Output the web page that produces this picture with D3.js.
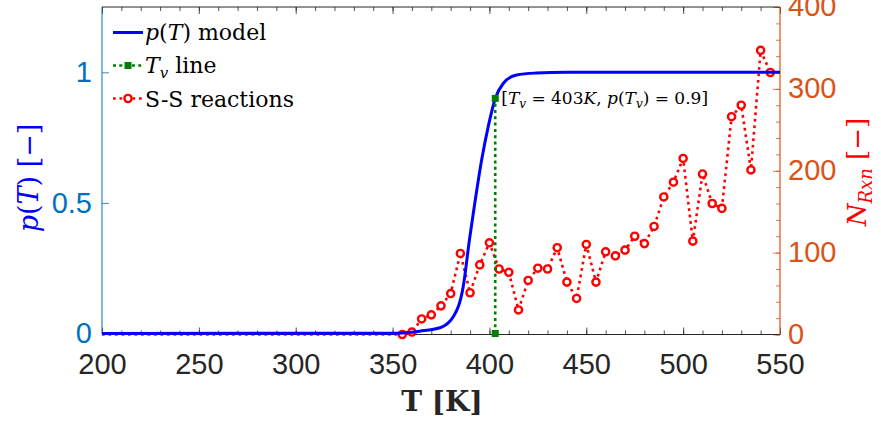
<!DOCTYPE html>
<html>
<head>
<meta charset="utf-8">
<script src="https://cdn.jsdelivr.net/npm/d3@7"></script>
<style>
  html, body { margin: 0; padding: 0; background: #fff; }
  svg { display: block; }
  .tick text { font-family: 'Liberation Sans', Arial, sans-serif; }
  .serif { font-family: 'DejaVu Serif', serif; }
</style>
</head>
<body>
<svg id="chart" width="881" height="423"></svg>
<script>
// S-S reaction counts (right axis)
const rxnT = [200, 355, 360, 365, 370, 375, 380, 385, 390, 395, 400, 405, 410, 415, 420,
  425, 430, 435, 440, 445, 450, 455, 460, 465, 470, 475, 480, 485, 490, 495, 500,
  505, 510, 515, 520, 525, 530, 535, 540, 545];
const rxnN = [0, 0, 3, 19, 24, 35, 50, 99, 51, 85, 112, 80, 76, 30, 66,
  81, 80, 106, 64, 44, 110, 64, 101, 96, 103, 120, 111, 132, 168, 186, 215,
  114, 196, 160, 154, 266, 280, 201, 347, 320];

// p(T) model curve (left axis)
const modelT = [200, 350, 364, 374.5, 381.5, 386.5, 389.7, 392.2, 396, 399.4, 403, 407.2, 414, 424, 440, 550];
const modelP = [0, 0.001, 0.009, 0.022, 0.066, 0.181, 0.36, 0.487, 0.665, 0.793, 0.9, 0.958, 0.99, 0.997, 1, 1];

// Tv line
const tvT = [403, 403];
const tvP = [0, 0.9];

const xTicks = [200, 250, 300, 350, 400, 450, 500, 550];
const leftTicks = [0, 0.5, 1];
const rightTicks = [0, 100, 200, 300, 400];

const blue = '#0000FF', red = '#FF0000', green = '#008000';
const leftColor = '#0072BD', rightColor = '#D95319', dark = '#262626';

function drawChart(svgElement) {
  const svg = d3.select(svgElement);
  const x0 = 102, x1 = 780, yTop = 7, yBot = 334.5;

  const x = d3.scaleLinear().domain([200, 550]).range([x0, x1]);
  const yL = d3.scaleLinear().domain([0, 1.25]).range([333.5, yTop]);
  const yR = d3.scaleLinear().domain([0, 400]).range([334.5, yTop]);

  const minorX = d3.range(200, 551, 10);
  const minorR = d3.range(0, 401, 20);

  function styleAxis(g, color, fontSize) {
    g.select('.domain').remove();
    g.selectAll('.tick line').attr('stroke', color).attr('stroke-width', 0.8);
    g.selectAll('.tick text').attr('fill', color).style('font-size', fontSize + 'px');
  }

  // bottom axis
  svg.append('g').attr('transform', `translate(0,${yBot})`)
    .call(d3.axisBottom(x).tickValues(minorX).tickSize(-4).tickFormat(''))
    .call(g => styleAxis(g, dark, 0));
  svg.append('g').attr('transform', `translate(0,${yBot})`)
    .call(d3.axisBottom(x).tickValues(xTicks).tickSize(-7).tickPadding(18.5).tickFormat(d3.format('d')))
    .call(g => styleAxis(g, dark, 29));

  // top axis (box)
  svg.append('g').attr('transform', `translate(0,${yTop})`)
    .call(d3.axisTop(x).tickValues(minorX).tickSize(-4).tickFormat(''))
    .call(g => styleAxis(g, dark, 0));
  svg.append('g').attr('transform', `translate(0,${yTop})`)
    .call(d3.axisTop(x).tickValues(xTicks).tickSize(-7).tickFormat(''))
    .call(g => styleAxis(g, dark, 0));

  // left axis
  svg.append('g').attr('transform', `translate(${x0},0)`)
    .call(d3.axisLeft(yL).tickValues(leftTicks).tickSize(-7).tickPadding(10).tickFormat(d => d === 0.5 ? '0.5' : d3.format('d')(d)))
    .call(g => styleAxis(g, leftColor, 29));

  // right axis
  svg.append('g').attr('transform', `translate(${x1},0)`)
    .call(d3.axisRight(yR).tickValues(minorR).tickSize(-4).tickFormat(''))
    .call(g => styleAxis(g, rightColor, 0));
  svg.append('g').attr('transform', `translate(${x1},0)`)
    .call(d3.axisRight(yR).tickValues(rightTicks).tickSize(-7).tickPadding(8).tickFormat(d3.format('d')))
    .call(g => styleAxis(g, rightColor, 29))
    .call(g => g.selectAll('.tick text').attr('dy', '0.3em'));

  // frame lines
  svg.append('line').attr('x1', x0).attr('x2', x1).attr('y1', yBot).attr('y2', yBot)
    .attr('stroke', dark).attr('stroke-width', 1);
  svg.append('line').attr('x1', x0).attr('x2', x1).attr('y1', yTop).attr('y2', yTop)
    .attr('stroke', dark).attr('stroke-width', 1);
  svg.append('line').attr('x1', x0).attr('x2', x0).attr('y1', yTop).attr('y2', yBot)
    .attr('stroke', leftColor).attr('stroke-width', 1);
  svg.append('line').attr('x1', x1).attr('x2', x1).attr('y1', yTop).attr('y2', yBot)
    .attr('stroke', rightColor).attr('stroke-width', 1.2);

  // red series
  const rxn = rxnT.map((t, i) => ({ t: t, n: rxnN[i] }));
  const rxnLine = d3.line().x(d => x(d.t)).y(d => yR(d.n));
  svg.append('path').datum(rxn)
    .attr('d', rxnLine)
    .attr('fill', 'none').attr('stroke', red)
    .attr('stroke-width', 2.6).attr('stroke-dasharray', '2.7,3.8');
  svg.append('g').selectAll('circle')
    .data(rxn.slice(1))
    .enter()
    .append('circle')
    .attr('cx', d => x(d.t)).attr('cy', d => yR(d.n))
    .attr('r', 3.6)
    .attr('fill', '#fff').attr('stroke', red).attr('stroke-width', 2.4);

  // blue model
  const model = modelT.map((t, i) => ({ t: t, p: modelP[i] }));
  const modelLine = d3.line().curve(d3.curveMonotoneX).x(d => x(d.t)).y(d => yL(d.p));
  svg.append('path').datum(model)
    .attr('d', modelLine)
    .attr('fill', 'none').attr('stroke', blue).attr('stroke-width', 3);

  // green Tv line
  const tv = tvT.map((t, i) => ({ t: t, p: tvP[i] }));
  svg.append('path').datum(tv)
    .attr('d', d3.line().x(d => x(d.t)).y(d => yL(d.p)))
    .attr('fill', 'none').attr('stroke', green)
    .attr('stroke-width', 2.6).attr('stroke-dasharray', '3,3.3');
  svg.append('g').selectAll('rect')
    .data(tv)
    .enter()
    .append('rect')
    .attr('x', d => x(d.t) - 3.5).attr('y', d => yL(d.p) - 3.5)
    .attr('width', 7).attr('height', 7)
    .attr('fill', green);

  // annotation
  const ann = svg.append('text').attr('class', 'serif')
    .attr('x', x(tvT[1]) + 6).attr('y', yL(tvP[1]) + 6)
    .style('font-size', '17px').attr('fill', '#000');
  ann.append('tspan').text('[');
  ann.append('tspan').attr('font-style', 'italic').text('T');
  ann.append('tspan').attr('font-style', 'italic').attr('dy', 4).style('font-size', '12px').text('v');
  ann.append('tspan').attr('dy', -4).text(' = 403');
  ann.append('tspan').attr('font-style', 'italic').text('K');
  ann.append('tspan').text(', ');
  ann.append('tspan').attr('font-style', 'italic').text('p');
  ann.append('tspan').text('(');
  ann.append('tspan').attr('font-style', 'italic').text('T');
  ann.append('tspan').attr('font-style', 'italic').attr('dy', 4).style('font-size', '12px').text('v');
  ann.append('tspan').attr('dy', -4).text(') = 0.9]');

  // legend
  const lx0 = 113, lx1 = 143, lxm = 128, ltx = 145;
  const rows = [32.5, 65.5, 98.5];
  svg.append('line').attr('x1', lx0).attr('x2', lx1).attr('y1', rows[0]).attr('y2', rows[0])
    .attr('stroke', blue).attr('stroke-width', 3);
  svg.append('line').attr('x1', lx0).attr('x2', lx1).attr('y1', rows[1]).attr('y2', rows[1])
    .attr('stroke', green).attr('stroke-width', 2.6).attr('stroke-dasharray', '3,3.3');
  svg.append('rect').attr('x', lxm - 3.5).attr('y', rows[1] - 3.5).attr('width', 7).attr('height', 7)
    .attr('fill', green);
  svg.append('line').attr('x1', lx0).attr('x2', lx1).attr('y1', rows[2]).attr('y2', rows[2])
    .attr('stroke', red).attr('stroke-width', 2.6).attr('stroke-dasharray', '2.7,3.8');
  svg.append('circle').attr('cx', lxm).attr('cy', rows[2]).attr('r', 3.6)
    .attr('fill', '#fff').attr('stroke', red).attr('stroke-width', 2.4);

  const leg1 = svg.append('text').attr('class', 'serif').attr('x', ltx).attr('y', rows[0] + 7)
    .style('font-size', '22px').attr('fill', '#000');
  leg1.append('tspan').attr('font-style', 'italic').text('p');
  leg1.append('tspan').text('(');
  leg1.append('tspan').attr('font-style', 'italic').text('T');
  leg1.append('tspan').text(') model');

  const leg2 = svg.append('text').attr('class', 'serif').attr('x', ltx).attr('y', rows[1] + 7)
    .style('font-size', '22px').attr('fill', '#000');
  leg2.append('tspan').attr('font-style', 'italic').text('T');
  leg2.append('tspan').attr('font-style', 'italic').attr('dy', 5).style('font-size', '15px').text('v');
  leg2.append('tspan').attr('dy', -5).text(' line');

  svg.append('text').attr('class', 'serif').attr('x', ltx).attr('y', rows[2] + 8)
    .style('font-size', '22px').attr('fill', '#000').text('S-S reactions');

  // axis labels
  svg.append('text').attr('class', 'serif')
    .attr('x', 442).attr('y', 411).attr('text-anchor', 'middle')
    .style('font-size', '28px').attr('font-weight', 'bold').attr('fill', dark)
    .text('T [K]');

  const ylab = svg.append('text').attr('class', 'serif')
    .attr('transform', 'translate(38,178) rotate(-90)').attr('text-anchor', 'middle')
    .style('font-size', '27px').attr('fill', blue);
  ylab.append('tspan').attr('font-style', 'italic').text('p');
  ylab.append('tspan').text('(');
  ylab.append('tspan').attr('font-style', 'italic').text('T');
  ylab.append('tspan').text(') [\u2212]');

  const yrlab = svg.append('text').attr('class', 'serif')
    .attr('transform', 'translate(866,172) rotate(-90)').attr('text-anchor', 'middle')
    .style('font-size', '26px').attr('fill', red);
  yrlab.append('tspan').attr('font-style', 'italic').text('N');
  yrlab.append('tspan').attr('font-style', 'italic').attr('dy', 6).style('font-size', '18px').text('Rxn');
  yrlab.append('tspan').attr('dy', -6).text(' [\u2212]');
}

drawChart(document.querySelector('#chart'));
</script>
</body>
</html>
